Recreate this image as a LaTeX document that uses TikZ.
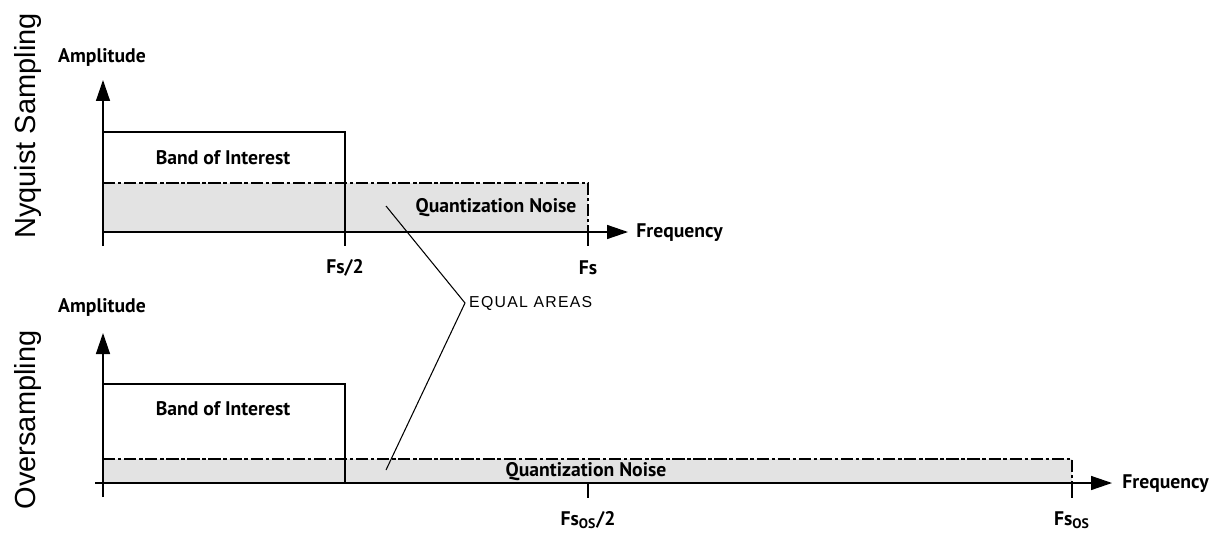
\documentclass[tikz,border=0pt]{standalone}
\usepackage{fontspec}
\setmainfont{PT Sans}
\newfontfamily\sidefont{Liberation Sans}
\newfontfamily\spacedfont[LetterSpace=8]{Liberation Sans}
\usetikzlibrary{arrows.meta}

\tikzset{
  lbl/.style={font=\fontsize{11.2}{13}\selectfont\bfseries, inner sep=1pt},
  side/.style={rotate=90, font=\sidefont\fontsize{16.5}{19}\selectfont, inner sep=1pt},
  noise/.style={fill=black!11, draw=none},
  dashdot/.style={dash pattern=on 7pt off 1.5pt on 2pt off 1.5pt},
}

\begin{document}
\begin{tikzpicture}[>={Triangle[length=0.42cm,width=0.28cm]},x=0.02cm,y=-0.02cm,line width=0.8pt]
\useasboundingbox (0,0) rectangle (1222,537);
% Nyquist sampling
\fill[noise] (103,183) rectangle (588,232);
\draw[dashdot] (103,183) -- (588,183) -- (588,232);
\draw (103,132) -- (345,132) -- (345,246);
\draw[->] (103,246) -- (103,80);
\draw[->] (103,232) -- (628,232);
\draw (588,232) -- (588,246);
\node[side] (nyq) at (28,126) {Nyquist Sampling};
\node[lbl] (amp1) at (102,57) {Amplitude};
\node[lbl] (band1) at (223,158) {Band of Interest};
\node[lbl] (qn1) at (496,208) {Quantization Noise};
\node[lbl,anchor=west] (freq1) at (634,233) {Frequency};
\node[lbl] (half1) at (345,268) {Fs/2};
\node[lbl] (fs1) at (588,268) {Fs};
% oversampling
\fill[noise] (103,459) rectangle (1072,483);
\draw[dashdot] (103,459) -- (1072,459) -- (1072,483);
\draw (103,384) -- (345,384) -- (345,483);
\draw[->] (103,497) -- (103,333);
\draw[->] (95,483) -- (1112,483);
\draw (588,483) -- (588,498);
\draw (1072,483) -- (1072,498);
\node[side] (over) at (28,420) {Oversampling};
\node[lbl] (amp2) at (102,307) {Amplitude};
\node[lbl] (band2) at (223,409) {Band of Interest};
\node[lbl] (qn2) at (586,472) {Quantization Noise};
\node[lbl,anchor=west] (freq2) at (1120,484) {Frequency};
\node[lbl] (half2) at (588,520) {Fs\textsubscript{OS}/2};
\node[lbl] (fs2) at (1072,520) {Fs\textsubscript{OS}};
% equal areas
\node[font=\spacedfont\small,anchor=west,inner sep=2pt] (eq) at (465,303) {EQUAL AREAS};
\coordinate (uparea) at (386,206);
\coordinate (lowarea) at (386,470);
\draw[line width=0.6pt] (uparea) -- (eq.west) -- (lowarea);
\end{tikzpicture}
\end{document}
